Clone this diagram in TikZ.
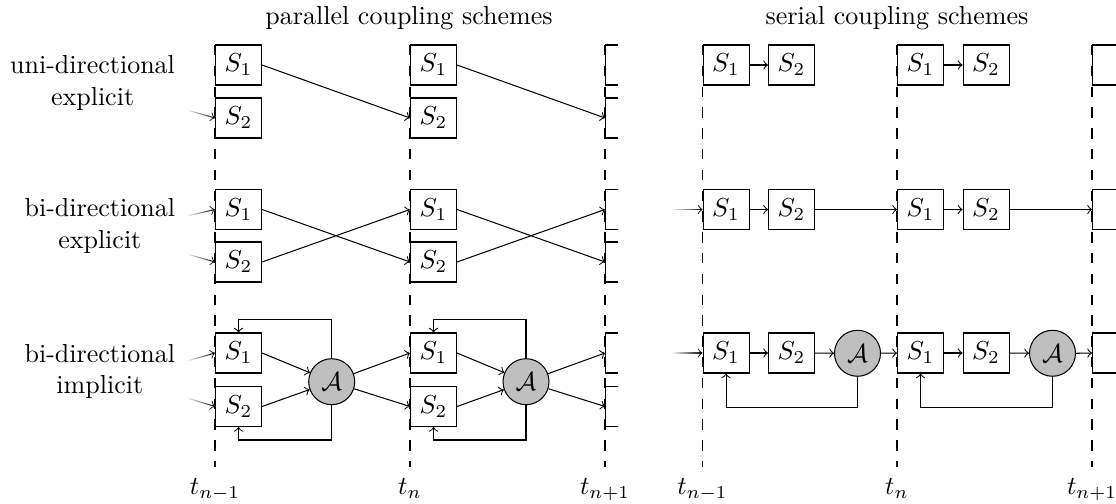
\documentclass[tikz,border=0pt]{standalone}
\usetikzlibrary{fadings}
\tikzfading[name=fadein, left color=transparent!100, right color=transparent!0]
\begin{document}
\begin{tikzpicture}[x=0.3846pt,y=-0.3846pt,
  box/.style={draw,fill=white,minimum width=17.69pt,minimum height=15.38pt,inner sep=0pt,anchor=west},
  alg/.style={circle,draw,fill=gray!50,minimum size=17.69pt,inner sep=0pt},
  arr/.style={->,>=to},
  inarr/.style={->,>=to,path fading=fadein},
  tline/.style={dash pattern=on 4pt off 4pt},
  lbl/.style={anchor=east,align=center,inner sep=0pt},
]
\useasboundingbox (0,0) rectangle (1116,504);

% headings
\node[anchor=base] (h1) at (409,25) {parallel coupling schemes};
\node[anchor=base] (h2) at (897,25) {serial coupling schemes};

% row labels
\node[lbl] (l1) at (175.5,83) {uni-directional\\explicit};
\node[lbl] (l2) at (175.5,226) {bi-directional\\explicit};
\node[lbl] (l3) at (175.5,371.5) {bi-directional\\implicit};

% time lines
\foreach \x in {215,410,605,702.5,897,1092}
  \draw[tline] (\x,45) -- (\x,467);

% time labels
\node[anchor=base] (t1) at (215,495) {$t_{n-1}$};
\node[anchor=base] (t2) at (410,495) {$t_{n}$};
\node[anchor=base] (t3) at (605,495) {$t_{n+1}$};
\node[anchor=base] (t4) at (702.5,495) {$t_{n-1}$};
\node[anchor=base] (t5) at (897,495) {$t_{n}$};
\node[anchor=base] (t6) at (1092,495) {$t_{n+1}$};

% ---------------- parallel ----------------
% row 1
\node[box] (p1a1) at (215,65) {$S_1$};
\node[box] (p1a2) at (215,118) {$S_2$};
\node[box] (p1b1) at (410,65) {$S_1$};
\node[box] (p1b2) at (410,118) {$S_2$};
% row 2
\node[box] (p2a1) at (215,209.5) {$S_1$};
\node[box] (p2a2) at (215,262) {$S_2$};
\node[box] (p2b1) at (410,209.5) {$S_1$};
\node[box] (p2b2) at (410,262) {$S_2$};
% row 3
\node[box] (p3a1) at (215,353) {$S_1$};
\node[box] (p3a2) at (215,406.5) {$S_2$};
\node[box] (p3b1) at (410,353) {$S_1$};
\node[box] (p3b2) at (410,406.5) {$S_2$};
\node[alg] (p3aA) at (331.7,381.7) {$\mathcal{A}$};
\node[alg] (p3bA) at (526,381.7) {$\mathcal{A}$};

\begin{scope}
\clip (590,0) rectangle (618,504);
\node[box] (p1c1) at (605,65) {};
\node[box] (p1c2) at (605,118) {};
\node[box] (p2c1) at (605,209.5) {};
\node[box] (p2c2) at (605,262) {};
\node[box] (p3c1) at (605,353) {};
\node[box] (p3c2) at (605,406.5) {};
\end{scope}

% incoming (faded)
\coordinate (i12) at (187,110);
\coordinate (i21) at (187,216);
\coordinate (i22) at (187,254);
\coordinate (i31) at (187,361);
\coordinate (i32) at (187,398);
\draw[inarr] (i12) -- (p1a2.west);
\draw[inarr] (i21) -- (p2a1.west);
\draw[inarr] (i22) -- (p2a2.west);
\draw[inarr] (i31) -- (p3a1.west);
\draw[inarr] (i32) -- (p3a2.west);

% row 1 arrows
\draw[arr] (p1a1.east) -- (p1b2.west);
\draw[arr] (p1b1.east) -- (p1c2.west);
% row 2 arrows
\draw[arr] (p2a1.east) -- (p2b2.west);
\draw[arr] (p2a2.east) -- (p2b1.west);
\draw[arr] (p2b1.east) -- (p2c2.west);
\draw[arr] (p2b2.east) -- (p2c1.west);
% row 3 arrows
\draw[arr] (p3a1.east) -- (p3aA);
\draw[arr] (p3a2.east) -- (p3aA);
\draw[arr] (p3aA) -- (p3b1.west);
\draw[arr] (p3aA) -- (p3b2.west);
\draw[arr] (p3b1.east) -- (p3bA);
\draw[arr] (p3b2.east) -- (p3bA);
\draw[arr] (p3bA) -- (p3c1.west);
\draw[arr] (p3bA) -- (p3c2.west);
\draw[arr] (p3aA.north) -- (p3aA.north |- 0,319.3) -| (p3a1.north);
\draw[arr] (p3aA.south) -- (p3aA.south |- 0,440) -| (p3a2.south);
\draw[arr] (p3bA.north) -- (p3bA.north |- 0,319.3) -| (p3b1.north);
\draw[arr] (p3bA.south) -- (p3bA.south |- 0,440) -| (p3b2.south);

% ---------------- serial ----------------
\node[box] (s1a1) at (702.5,65) {$S_1$};
\node[box] (s1a2) at (768,65) {$S_2$};
\node[box] (s1b1) at (897,65) {$S_1$};
\node[box] (s1b2) at (962.5,65) {$S_2$};
\node[box] (s2a1) at (702.5,209.5) {$S_1$};
\node[box] (s2a2) at (768,209.5) {$S_2$};
\node[box] (s2b1) at (897,209.5) {$S_1$};
\node[box] (s2b2) at (962.5,209.5) {$S_2$};
\node[box] (s3a1) at (702.5,353) {$S_1$};
\node[box] (s3a2) at (768,353) {$S_2$};
\node[box] (s3b1) at (897,353) {$S_1$};
\node[box] (s3b2) at (962.5,353) {$S_2$};
\node[alg] (s3aA) at (857.5,353.3) {$\mathcal{A}$};
\node[alg] (s3bA) at (1052.5,353.3) {$\mathcal{A}$};

\begin{scope}
\clip (1080,0) rectangle (1116,504);
\node[box] (s1c1) at (1092,65) {};
\node[box] (s2c1) at (1092,209.5) {};
\node[box] (s3c1) at (1092,353) {};
\end{scope}

\coordinate (j2) at (672,209.5);
\coordinate (j3) at (672,353);
\draw[inarr] (672,205) (672,214) (j2) -- (s2a1.west);
\draw[inarr] (672,348) (672,358) (j3) -- (s3a1.west);

\draw[arr] (s1a1) -- (s1a2);
\draw[arr] (s1b1) -- (s1b2);

\draw[arr] (s2a1) -- (s2a2);
\draw[arr] (s2a2) -- (s2b1);
\draw[arr] (s2b1) -- (s2b2);
\draw[arr] (s2b2.east) -- (s2c1.west);

\draw[arr] (s3a1) -- (s3a2);
\draw[arr] (s3a2) -- (s3aA);
\draw[arr] (s3aA) -- (s3b1);
\draw[arr] (s3b1) -- (s3b2);
\draw[arr] (s3b2) -- (s3bA);
\draw[arr] (s3bA.east) -- (s3c1.west);
\draw[arr] (s3aA.south) -- (s3aA.south |- 0,407.7) -| (s3a1.south);
\draw[arr] (s3bA.south) -- (s3bA.south |- 0,407.7) -| (s3b1.south);
\end{tikzpicture}
\end{document}
